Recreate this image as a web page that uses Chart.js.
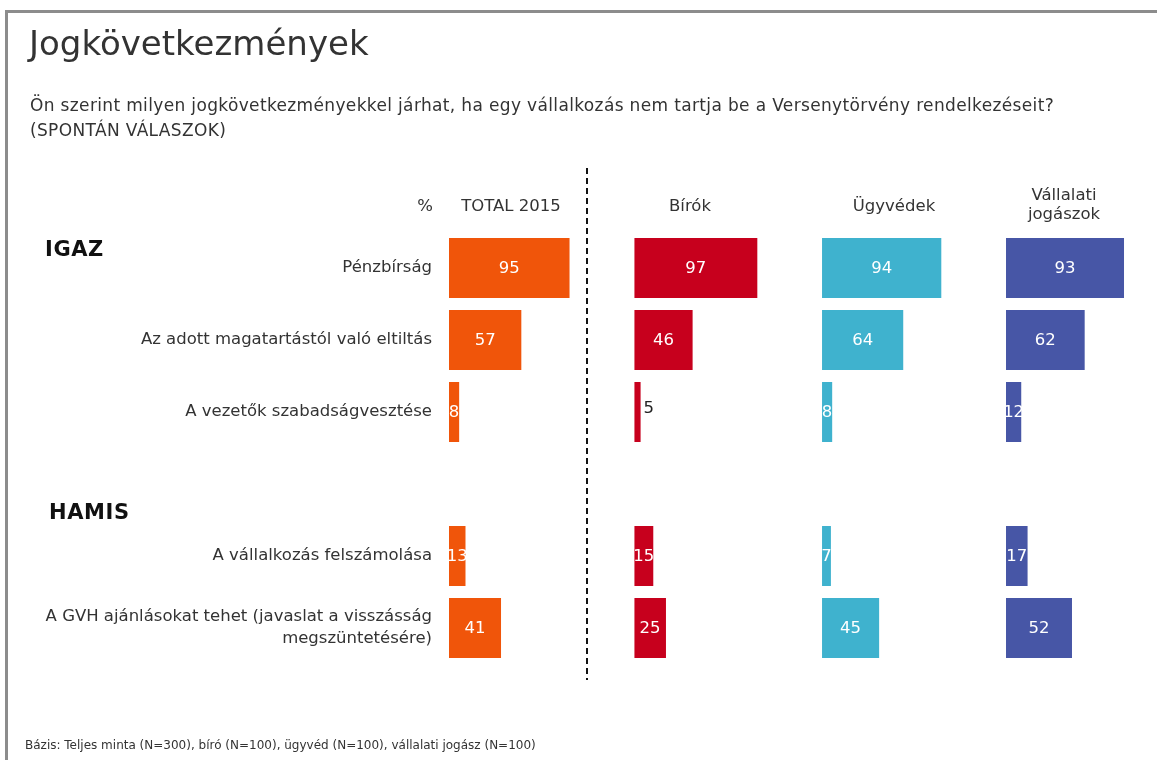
<!DOCTYPE html>
<html>
<head>
<meta charset="utf-8">
<script src="https://cdn.jsdelivr.net/npm/chart.js@4"></script>
<style>
  body { margin: 0; background: #fff; font-family: "DejaVu Sans", Verdana, sans-serif; color: #333; }
  #wrap { position: relative; width: 1157px; height: 760px; overflow: hidden; }
  #frame { position: absolute; left: 5px; top: 10px; width: 1160px; height: 760px; border-top: 3px solid #8c8c8c; border-left: 3px solid #8c8c8c; }
  canvas { position: absolute; left: 0; top: 0; }
  .t { position: absolute; white-space: nowrap; }
  .hd { position: absolute; font-size: 16.5px; text-align: center; transform: translateX(-50%); line-height: 19px; }
  .grp { position: absolute; font-size: 21px; font-weight: bold; color: #111; letter-spacing: 0.6px; }
</style>
</head>
<body>
<div id="wrap">
  <div id="frame"></div>
  <canvas id="chart" width="1157" height="760"></canvas>
  <div class="t" style="left:29px; top:23px; font-size:34px;">Jogkövetkezmények</div>
  <div class="t" style="left:30px; top:93px; font-size:17px; letter-spacing:0.35px; line-height:25px;">Ön szerint milyen jogkövetkezményekkel járhat, ha egy vállalkozás nem tartja be a Versenytörvény rendelkezéseit?<br>(SPONTÁN VÁLASZOK)</div>
  <div class="hd" style="left:425px; top:196px;">%</div>
  <div class="hd" style="left:511px; top:196px;">TOTAL 2015</div>
  <div class="hd" style="left:690px; top:196px;">Bírók</div>
  <div class="hd" style="left:894px; top:196px;">Ügyvédek</div>
  <div class="hd" style="left:1064px; top:185px;">Vállalati<br>jogászok</div>
  <div class="grp" style="left:45px; top:237px;">IGAZ</div>
  <div class="grp" style="left:49px; top:500px;">HAMIS</div>
  <svg class="t" style="left:0; top:0;" width="1157" height="760">
    <line x1="587" y1="168" x2="587" y2="680" stroke="#111" stroke-width="2" stroke-dasharray="6,4"/>
  </svg>
  <div class="t" style="left:25px; top:738px; font-size:12px;">Bázis: Teljes minta (N=300), bíró (N=100), ügyvéd (N=100), vállalati jogász (N=100)</div>
</div>
<script>
var categories = [
    "Pénzbírság",
    "Az adott magatartástól való eltiltás",
    "A vezetők szabadságvesztése",
    "",
    "A vállalkozás felszámolása",
    ["A GVH ajánlásokat tehet (javaslat a visszásság", "megszüntetésére)"]
];
var seriesNames = ["TOTAL 2015", "Bírók", "Ügyvédek", "Vállalati jogászok"];
var total2015 = [95, 57, 8, null, 13, 41];
var birok = [97, 46, 5, null, 15, 25];
var ugyvedek = [94, 64, 8, null, 7, 45];
var vallalati = [93, 62, 12, null, 17, 52];

var colors = ["#f0550a", "#c7001d", "#3fb2ce", "#4756a6"];
var panelMax = [146, 148, 145, 119];
var values = [total2015, birok, ugyvedek, vallalati];

var datasets = [];
var scales = {
    y: {
        type: 'category',
        position: 'left',
        grid: { display: false, drawTicks: false },
        border: { display: false },
        ticks: {
            color: '#333',
            padding: 17,
            font: { family: 'DejaVu Sans', size: 16.5, lineHeight: 1.33 }
        },
        afterFit: function (scale) { scale.width = 449; }
    }
};

values.forEach(function (vals, i) {
    var id = 'x' + i;
    datasets.push({
        label: seriesNames[i],
        data: vals,
        xAxisID: id,
        yAxisID: 'y',
        backgroundColor: colors[i],
        grouped: false,
        barPercentage: 0.833,
        categoryPercentage: 1
    });
    scales[id] = {
        type: 'linear',
        position: 'bottom',
        stack: 'panels',
        stackWeight: panelMax[i],
        min: 0,
        max: panelMax[i],
        display: false
    };
});

var barLabels = {
    id: 'barLabels',
    afterDatasetsDraw: function (chart) {
        var ctx = chart.ctx;
        ctx.save();
        ctx.font = '16.5px "DejaVu Sans"';
        ctx.textBaseline = 'middle';
        chart.data.datasets.forEach(function (ds, i) {
            var meta = chart.getDatasetMeta(i);
            meta.data.forEach(function (bar, j) {
                var v = ds.data[j];
                if (v === null) return;
                if (v <= 5) {
                    ctx.fillStyle = '#222';
                    ctx.textAlign = 'left';
                    ctx.fillText(v, bar.x + 3, bar.y - 3);
                } else {
                    ctx.fillStyle = '#fff';
                    ctx.textAlign = 'center';
                    ctx.fillText(v, (bar.x + bar.base) / 2, bar.y + 1);
                }
            });
        });
        ctx.restore();
    }
};

var ctx = document.getElementById("chart").getContext('2d');
var chart = new Chart(ctx, {
    type: 'bar',
    data: { labels: categories, datasets: datasets },
    options: {
        indexAxis: 'y',
        responsive: false,
        animation: false,
        devicePixelRatio: 1,
        layout: { padding: { top: 232, bottom: 96, left: 0, right: 0 } },
        plugins: {
            legend: { display: false },
            tooltip: { enabled: false }
        },
        scales: scales
    },
    plugins: [barLabels]
});
</script>
</body>
</html>
